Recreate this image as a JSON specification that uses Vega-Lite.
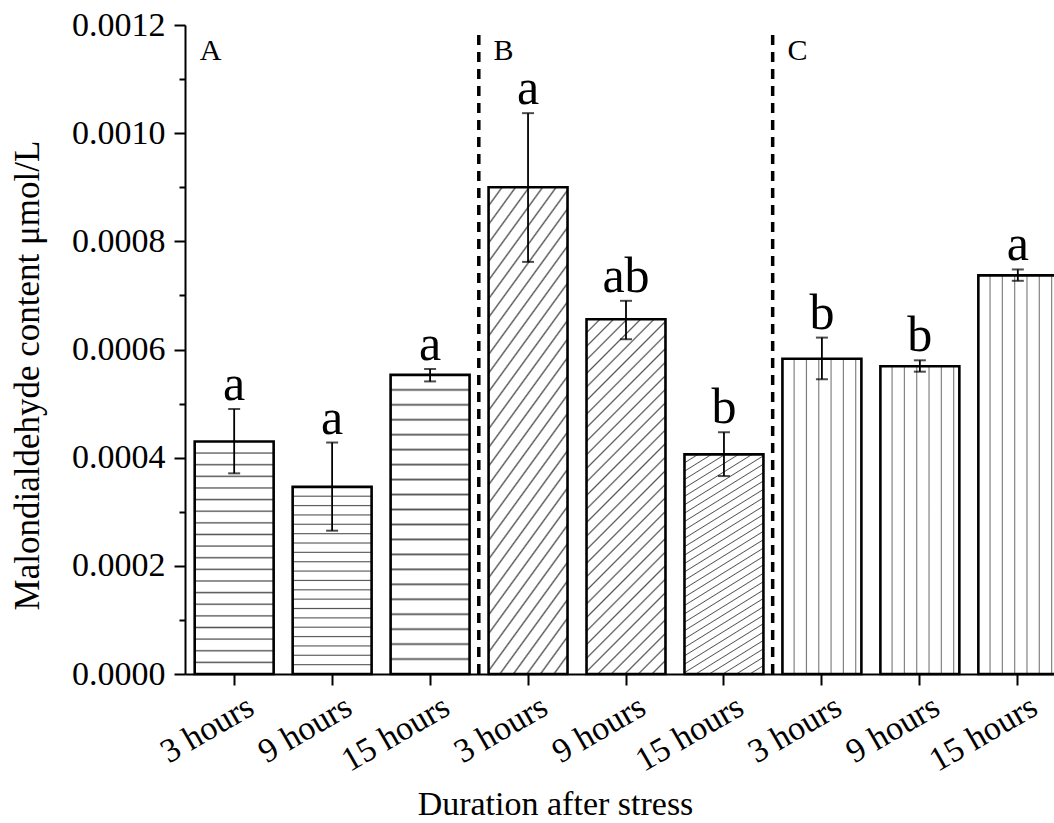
{
  "$schema": "https://vega.github.io/schema/vega-lite/v6.json",
  "width": 869,
  "height": 649,
  "autosize": {"type": "none"},
  "padding": {"left": 185, "top": 25, "right": 0, "bottom": 149},
  "background": "white",
  "config": {
    "view": {"stroke": null},
    "font": "Liberation Serif",
    "text": {"font": "Liberation Serif", "color": "black"}
  },
  "datasets": {
    "bars": [
      {"key": "A|3 hours", "group": "A", "value": 0.00043, "lo": 0.000371, "hi": 0.00049, "sig": "a"},
      {"key": "A|9 hours", "group": "A", "value": 0.000346, "lo": 0.000265, "hi": 0.000428, "sig": "a"},
      {"key": "A|15 hours", "group": "A", "value": 0.000553, "lo": 0.000541, "hi": 0.000564, "sig": "a"},
      {"key": "B|3 hours", "group": "B", "value": 0.0009, "lo": 0.000762, "hi": 0.001037, "sig": "a"},
      {"key": "B|9 hours", "group": "B", "value": 0.000656, "lo": 0.000619, "hi": 0.00069, "sig": "ab"},
      {"key": "B|15 hours", "group": "B", "value": 0.000406, "lo": 0.000366, "hi": 0.000447, "sig": "b"},
      {"key": "C|3 hours", "group": "C", "value": 0.000583, "lo": 0.000545, "hi": 0.000622, "sig": "b"},
      {"key": "C|9 hours", "group": "C", "value": 0.000569, "lo": 0.000559, "hi": 0.00058, "sig": "b"},
      {"key": "C|15 hours", "group": "C", "value": 0.000737, "lo": 0.000727, "hi": 0.000748, "sig": "a"}
    ],
    "separators": [
      {"key": "A|15 hours"},
      {"key": "B|15 hours"}
    ],
    "panels": [
      {"key": "A|3 hours", "panel": "A"},
      {"key": "B|3 hours", "panel": "B"},
      {"key": "C|3 hours", "panel": "C"}
    ]
  },
  "data": {"name": "bars"},
  "encoding": {
    "x": {
      "field": "key",
      "type": "nominal",
      "sort": null,
      "scale": {"range": [0, 882], "paddingInner": 0.194, "paddingOuter": 0.099},
      "axis": {
        "title": "Duration after stress",
        "labelExpr": "split(datum.label, '|')[1]",
        "labelAngle": -30,
        "labelAlign": "right",
        "labelBaseline": "middle",
        "labelOffset": 17,
        "labelPadding": 19,
        "labelFontSize": 34,
        "labelFont": "Liberation Serif",
        "labelColor": "black",
        "labelOverlap": false,
        "labelLimit": 300,
        "tickSize": 11,
        "tickWidth": 2,
        "tickColor": "black",
        "domainColor": "black",
        "domainWidth": 2,
        "titleFont": "Liberation Serif",
        "titleFontSize": 34,
        "titleFontWeight": "normal",
        "titleColor": "black",
        "titleX": 370,
        "titleY": 140,
        "titleAlign": "center",
        "titleBaseline": "alphabetic"
      }
    }
  },
  "layer": [
    {
      "transform": [{"filter": "datum.group === 'A'"}],
      "mark": {
        "type": "bar",
        "stroke": "black",
        "strokeWidth": 2.6,
        "fill": {
          "gradient": "linear", "x1": 0, "y1": 0, "x2": 0, "y2": 1,
          "stops": [
            {"offset": 0, "color": "#ffffff"},
            {"offset": 0.044, "color": "#ffffff"}, {"offset": 0.05, "color": "#555555"}, {"offset": 0.056, "color": "#ffffff"},
            {"offset": 0.094, "color": "#ffffff"}, {"offset": 0.1, "color": "#555555"}, {"offset": 0.106, "color": "#ffffff"},
            {"offset": 0.144, "color": "#ffffff"}, {"offset": 0.15, "color": "#555555"}, {"offset": 0.156, "color": "#ffffff"},
            {"offset": 0.194, "color": "#ffffff"}, {"offset": 0.2, "color": "#555555"}, {"offset": 0.206, "color": "#ffffff"},
            {"offset": 0.244, "color": "#ffffff"}, {"offset": 0.25, "color": "#555555"}, {"offset": 0.256, "color": "#ffffff"},
            {"offset": 0.294, "color": "#ffffff"}, {"offset": 0.3, "color": "#555555"}, {"offset": 0.306, "color": "#ffffff"},
            {"offset": 0.344, "color": "#ffffff"}, {"offset": 0.35, "color": "#555555"}, {"offset": 0.356, "color": "#ffffff"},
            {"offset": 0.394, "color": "#ffffff"}, {"offset": 0.4, "color": "#555555"}, {"offset": 0.406, "color": "#ffffff"},
            {"offset": 0.444, "color": "#ffffff"}, {"offset": 0.45, "color": "#555555"}, {"offset": 0.456, "color": "#ffffff"},
            {"offset": 0.494, "color": "#ffffff"}, {"offset": 0.5, "color": "#555555"}, {"offset": 0.506, "color": "#ffffff"},
            {"offset": 0.544, "color": "#ffffff"}, {"offset": 0.55, "color": "#555555"}, {"offset": 0.556, "color": "#ffffff"},
            {"offset": 0.594, "color": "#ffffff"}, {"offset": 0.6, "color": "#555555"}, {"offset": 0.606, "color": "#ffffff"},
            {"offset": 0.644, "color": "#ffffff"}, {"offset": 0.65, "color": "#555555"}, {"offset": 0.656, "color": "#ffffff"},
            {"offset": 0.694, "color": "#ffffff"}, {"offset": 0.7, "color": "#555555"}, {"offset": 0.706, "color": "#ffffff"},
            {"offset": 0.744, "color": "#ffffff"}, {"offset": 0.75, "color": "#555555"}, {"offset": 0.756, "color": "#ffffff"},
            {"offset": 0.794, "color": "#ffffff"}, {"offset": 0.8, "color": "#555555"}, {"offset": 0.806, "color": "#ffffff"},
            {"offset": 0.844, "color": "#ffffff"}, {"offset": 0.85, "color": "#555555"}, {"offset": 0.856, "color": "#ffffff"},
            {"offset": 0.894, "color": "#ffffff"}, {"offset": 0.9, "color": "#555555"}, {"offset": 0.906, "color": "#ffffff"},
            {"offset": 0.944, "color": "#ffffff"}, {"offset": 0.95, "color": "#555555"}, {"offset": 0.956, "color": "#ffffff"},
            {"offset": 1, "color": "#ffffff"}
          ]
        }
      },
      "encoding": {
        "y": {
          "field": "value",
          "type": "quantitative",
          "scale": {"domain": [0, 0.0012], "nice": false, "zero": true},
          "axis": {
            "title": "Malondialdehyde content μmol/L",
            "values": [0, 0.0001, 0.0002, 0.0003, 0.0004, 0.0005, 0.0006, 0.0007, 0.0008, 0.0009, 0.001, 0.0011, 0.0012],
            "labelExpr": "round(datum.value * 10000) % 2 === 1 ? '' : format(datum.value, '.4f')",
            "tickSize": {"condition": {"test": "round(datum.value * 10000) % 2 === 1", "value": 6}, "value": 11},
            "tickWidth": 2,
            "tickColor": "black",
            "domainColor": "black",
            "domainWidth": 2,
            "grid": false,
            "labelFontSize": 34,
            "labelFont": "Liberation Serif",
            "labelColor": "black",
            "labelPadding": 9,
            "labelOverlap": false,
            "titleFont": "Liberation Serif",
            "titleFontSize": 35,
            "titleFontWeight": "normal",
            "titleColor": "black",
            "titleX": -147,
            "titleY": 350,
            "titleAngle": -90,
            "titleAlign": "center",
            "titleBaseline": "alphabetic"
          }
        }
      }
    },
    {
      "transform": [{"filter": "datum.group === 'B'"}],
      "mark": {
        "type": "bar",
        "stroke": "black",
        "strokeWidth": 2.6,
        "fill": {
          "gradient": "linear", "x1": 0, "y1": 0, "x2": 0.26, "y2": 1.165,
          "stops": [
            {"offset": 0, "color": "#ffffff"},
            {"offset": 0.02725, "color": "#ffffff"}, {"offset": 0.03125, "color": "#555555"}, {"offset": 0.03525, "color": "#ffffff"},
            {"offset": 0.0585, "color": "#ffffff"}, {"offset": 0.0625, "color": "#555555"}, {"offset": 0.0665, "color": "#ffffff"},
            {"offset": 0.08975, "color": "#ffffff"}, {"offset": 0.09375, "color": "#555555"}, {"offset": 0.09775, "color": "#ffffff"},
            {"offset": 0.121, "color": "#ffffff"}, {"offset": 0.125, "color": "#555555"}, {"offset": 0.129, "color": "#ffffff"},
            {"offset": 0.15225, "color": "#ffffff"}, {"offset": 0.15625, "color": "#555555"}, {"offset": 0.16025, "color": "#ffffff"},
            {"offset": 0.1835, "color": "#ffffff"}, {"offset": 0.1875, "color": "#555555"}, {"offset": 0.1915, "color": "#ffffff"},
            {"offset": 0.21475, "color": "#ffffff"}, {"offset": 0.21875, "color": "#555555"}, {"offset": 0.22275, "color": "#ffffff"},
            {"offset": 0.246, "color": "#ffffff"}, {"offset": 0.25, "color": "#555555"}, {"offset": 0.254, "color": "#ffffff"},
            {"offset": 0.27725, "color": "#ffffff"}, {"offset": 0.28125, "color": "#555555"}, {"offset": 0.28525, "color": "#ffffff"},
            {"offset": 0.3085, "color": "#ffffff"}, {"offset": 0.3125, "color": "#555555"}, {"offset": 0.3165, "color": "#ffffff"},
            {"offset": 0.33975, "color": "#ffffff"}, {"offset": 0.34375, "color": "#555555"}, {"offset": 0.34775, "color": "#ffffff"},
            {"offset": 0.371, "color": "#ffffff"}, {"offset": 0.375, "color": "#555555"}, {"offset": 0.379, "color": "#ffffff"},
            {"offset": 0.40225, "color": "#ffffff"}, {"offset": 0.40625, "color": "#555555"}, {"offset": 0.41025, "color": "#ffffff"},
            {"offset": 0.4335, "color": "#ffffff"}, {"offset": 0.4375, "color": "#555555"}, {"offset": 0.4415, "color": "#ffffff"},
            {"offset": 0.46475, "color": "#ffffff"}, {"offset": 0.46875, "color": "#555555"}, {"offset": 0.47275, "color": "#ffffff"},
            {"offset": 0.496, "color": "#ffffff"}, {"offset": 0.5, "color": "#555555"}, {"offset": 0.504, "color": "#ffffff"},
            {"offset": 0.52725, "color": "#ffffff"}, {"offset": 0.53125, "color": "#555555"}, {"offset": 0.53525, "color": "#ffffff"},
            {"offset": 0.5585, "color": "#ffffff"}, {"offset": 0.5625, "color": "#555555"}, {"offset": 0.5665, "color": "#ffffff"},
            {"offset": 0.58975, "color": "#ffffff"}, {"offset": 0.59375, "color": "#555555"}, {"offset": 0.59775, "color": "#ffffff"},
            {"offset": 0.621, "color": "#ffffff"}, {"offset": 0.625, "color": "#555555"}, {"offset": 0.629, "color": "#ffffff"},
            {"offset": 0.65225, "color": "#ffffff"}, {"offset": 0.65625, "color": "#555555"}, {"offset": 0.66025, "color": "#ffffff"},
            {"offset": 0.6835, "color": "#ffffff"}, {"offset": 0.6875, "color": "#555555"}, {"offset": 0.6915, "color": "#ffffff"},
            {"offset": 0.71475, "color": "#ffffff"}, {"offset": 0.71875, "color": "#555555"}, {"offset": 0.72275, "color": "#ffffff"},
            {"offset": 0.746, "color": "#ffffff"}, {"offset": 0.75, "color": "#555555"}, {"offset": 0.754, "color": "#ffffff"},
            {"offset": 0.77725, "color": "#ffffff"}, {"offset": 0.78125, "color": "#555555"}, {"offset": 0.78525, "color": "#ffffff"},
            {"offset": 0.8085, "color": "#ffffff"}, {"offset": 0.8125, "color": "#555555"}, {"offset": 0.8165, "color": "#ffffff"},
            {"offset": 0.83975, "color": "#ffffff"}, {"offset": 0.84375, "color": "#555555"}, {"offset": 0.84775, "color": "#ffffff"},
            {"offset": 0.871, "color": "#ffffff"}, {"offset": 0.875, "color": "#555555"}, {"offset": 0.879, "color": "#ffffff"},
            {"offset": 0.90225, "color": "#ffffff"}, {"offset": 0.90625, "color": "#555555"}, {"offset": 0.91025, "color": "#ffffff"},
            {"offset": 0.9335, "color": "#ffffff"}, {"offset": 0.9375, "color": "#555555"}, {"offset": 0.9415, "color": "#ffffff"},
            {"offset": 0.96475, "color": "#ffffff"}, {"offset": 0.96875, "color": "#555555"}, {"offset": 0.97275, "color": "#ffffff"},
            {"offset": 1, "color": "#ffffff"}
          ]
        }
      },
      "encoding": {
        "y": {"field": "value", "type": "quantitative"}
      }
    },
    {
      "transform": [{"filter": "datum.group === 'C'"}],
      "mark": {
        "type": "bar",
        "stroke": "black",
        "strokeWidth": 2.6,
        "fill": {
          "gradient": "linear", "x1": 0, "y1": 0, "x2": 1, "y2": 0,
          "stops": [
            {"offset": 0, "color": "#ffffff"},
            {"offset": 0.134, "color": "#ffffff"}, {"offset": 0.148, "color": "#777777"}, {"offset": 0.162, "color": "#ffffff"},
            {"offset": 0.29, "color": "#ffffff"}, {"offset": 0.304, "color": "#777777"}, {"offset": 0.318, "color": "#ffffff"},
            {"offset": 0.446, "color": "#ffffff"}, {"offset": 0.46, "color": "#777777"}, {"offset": 0.474, "color": "#ffffff"},
            {"offset": 0.602, "color": "#ffffff"}, {"offset": 0.616, "color": "#777777"}, {"offset": 0.63, "color": "#ffffff"},
            {"offset": 0.758, "color": "#ffffff"}, {"offset": 0.772, "color": "#777777"}, {"offset": 0.786, "color": "#ffffff"},
            {"offset": 0.914, "color": "#ffffff"}, {"offset": 0.928, "color": "#777777"}, {"offset": 0.942, "color": "#ffffff"},
            {"offset": 1, "color": "#ffffff"}
          ]
        }
      },
      "encoding": {
        "y": {"field": "value", "type": "quantitative"}
      }
    },
    {
      "mark": {"type": "rule", "color": "black", "strokeWidth": 1.8},
      "encoding": {
        "y": {"field": "lo", "type": "quantitative"},
        "y2": {"field": "hi"}
      }
    },
    {
      "mark": {"type": "tick", "orient": "horizontal", "size": 12, "thickness": 2, "color": "black"},
      "encoding": {
        "y": {"field": "lo", "type": "quantitative"}
      }
    },
    {
      "mark": {"type": "tick", "orient": "horizontal", "size": 12, "thickness": 2, "color": "black"},
      "encoding": {
        "y": {"field": "hi", "type": "quantitative"}
      }
    },
    {
      "mark": {"type": "text", "fontSize": 50, "font": "Liberation Serif", "baseline": "alphabetic", "align": "center", "dy": -9, "color": "black"},
      "encoding": {
        "y": {"field": "hi", "type": "quantitative"},
        "text": {"field": "sig", "type": "nominal"}
      }
    },
    {
      "data": {"name": "separators"},
      "mark": {"type": "rule", "color": "black", "strokeWidth": 3.5, "strokeDash": [10, 7]},
      "encoding": {
        "x": {"field": "key", "type": "nominal", "bandPosition": 1.117},
        "y": {"datum": 0, "type": "quantitative"},
        "y2": {"datum": 0.00119}
      }
    },
    {
      "data": {"name": "panels"},
      "mark": {"type": "text", "fontSize": 30, "font": "Liberation Serif", "align": "left", "baseline": "alphabetic", "dx": 5, "color": "black"},
      "encoding": {
        "x": {"field": "key", "type": "nominal", "bandPosition": 0},
        "y": {"datum": 0.001135, "type": "quantitative"},
        "text": {"field": "panel", "type": "nominal"}
      }
    }
  ]
}
